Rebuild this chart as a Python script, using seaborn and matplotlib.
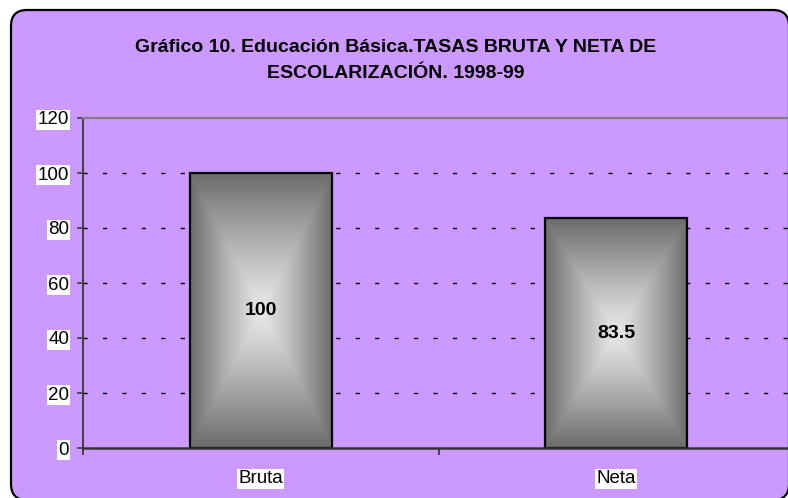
import numpy as np
import pandas as pd
import matplotlib
matplotlib.use("Agg")
import matplotlib.pyplot as plt
import seaborn as sns
from matplotlib.patches import FancyBboxPatch
from matplotlib.transforms import IdentityTransform

# ---- data ----
categories = ["Bruta", "Neta"]
values = [100, 83.5]
value_labels = ["100", "83.5"]
y_ticks = [0, 20, 40, 60, 80, 100, 120]
title_line1 = "Gráfico 10. Educación Básica.TASAS BRUTA Y NETA DE"
title_line2 = "ESCOLARIZACIÓN. 1998-99"

sns.set_theme(style="white")
plt.rcParams["font.family"] = ["Liberation Sans", "DejaVu Sans"]
plt.rcParams["lines.scale_dashes"] = False
plt.rcParams["text.color"] = "black"
plt.rcParams["xtick.color"] = "black"
plt.rcParams["ytick.color"] = "black"

BG = "#CC99FF"
W, H = 788, 498
fig = plt.figure(figsize=(W / 100, H / 100), dpi=100, facecolor="white")

# rounded chart frame
frame = FancyBboxPatch((11, -2), 778, 490, boxstyle="round,pad=0,rounding_size=16",
                       transform=IdentityTransform(), facecolor=BG, edgecolor="black",
                       linewidth=1.6, zorder=-10)
fig.patches.append(frame)

ax = fig.add_axes([83 / W, (H - 448) / H, 711 / W, 330 / H])
ax.set_facecolor("none")
ax.set_zorder(5)

df = pd.DataFrame({"cat": categories, "val": values})
sns.barplot(data=df, x="cat", y="val", ax=ax, width=0.40,
            facecolor="none", edgecolor="black", linewidth=1.6, zorder=3)

ax.set_xlim(-0.5, 1.5)
ax.set_ylim(0, 120)

# gradient fill ("from centre" box gradient) for each bar
n = 200
yy, xx = np.mgrid[0:n, 0:n] / (n - 1)
t = np.maximum(np.abs(xx - 0.5), np.abs(yy - 0.5)) / 0.5
light, dark = 0.91, 0.42
grad = light - (light - dark) * t ** 1.15
for p in ax.patches:
    x0, y0 = p.get_x(), p.get_y()
    w, h = p.get_width(), p.get_height()
    im = ax.imshow(grad, cmap="gray", vmin=0, vmax=1, extent=(x0, x0 + w, y0, y0 + h),
                   aspect="auto", zorder=2, interpolation="bilinear", origin="lower")
    im.set_clip_path(p)
ax.set_xlim(-0.5, 1.5)
ax.set_ylim(0, 120)

# value labels inside bars
for i, (v, lab) in enumerate(zip(values, value_labels)):
    ax.text(i, v / 2, lab, ha="center", va="center", fontsize=14,
            fontweight="bold", color="black", zorder=5)

# grid
for yv in y_ticks[1:-1]:
    ax.axhline(yv, color="black", linewidth=1.0, linestyle=(0, (3, 11)), zorder=1)

# spines
ax.spines["right"].set_visible(False)
ax.spines["top"].set_color("#808080")
ax.spines["top"].set_linewidth(1.6)
ax.spines["left"].set_color("#404040")
ax.spines["left"].set_linewidth(1.4)
ax.spines["bottom"].set_color("#333333")
ax.spines["bottom"].set_linewidth(1.8)
ax.spines["bottom"].set_zorder(4)

# ticks
ax.set_yticks(y_ticks)
ax.set_yticklabels([str(v) for v in y_ticks])
ax.tick_params(axis="y", which="major", left=True, length=4, width=1.2, color="#404040",
               direction="out", pad=6, labelsize=13.5, labelcolor="black")
ax.set_xticks([-0.5, 0.5, 1.5])
ax.set_xticklabels(["", "", ""])
ax.set_xticks([0, 1], minor=True)
ax.set_xticklabels(categories, minor=True)
ax.tick_params(axis="x", which="major", bottom=True, length=5, width=1.2, color="#333333",
               direction="out")
ax.tick_params(axis="x", which="minor", bottom=False, length=0, pad=16, labelsize=13.5,
               labelcolor="black")
ax.set_xlabel("")
ax.set_ylabel("")

for lab in ax.get_yticklabels() + ax.get_xticklabels(minor=True):
    lab.set_bbox(dict(facecolor="white", edgecolor="none", pad=1.0))

# title
fig.text(396 / W, 1 - 47 / H, title_line1, ha="center", va="center",
         fontsize=14, fontweight="bold", color="black")
fig.text(396 / W, 1 - 73 / H, title_line2, ha="center", va="center",
         fontsize=14, fontweight="bold", color="black")

fig.savefig("out.png", dpi=100, facecolor="white")
